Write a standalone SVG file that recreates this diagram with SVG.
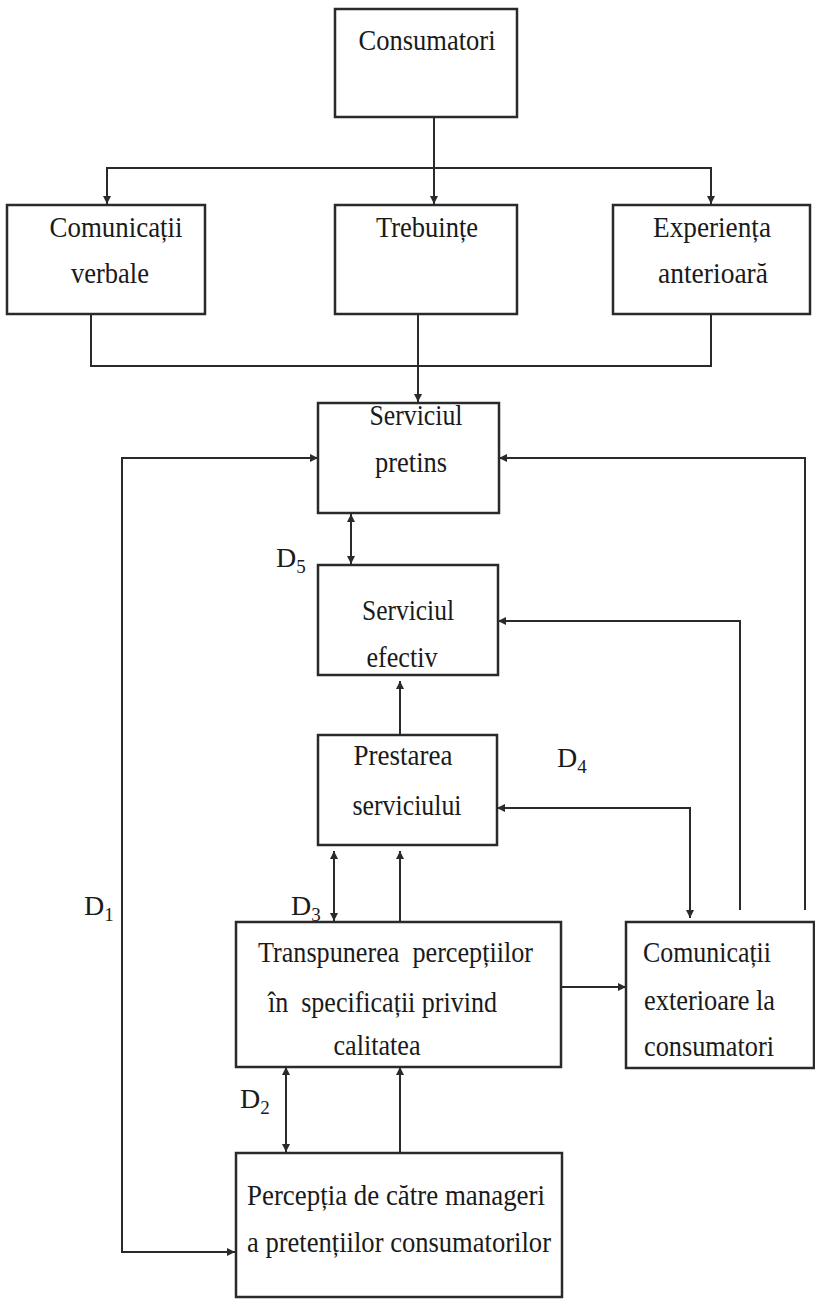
<svg xmlns="http://www.w3.org/2000/svg" width="815" height="1300" viewBox="0 0 815 1300">
<defs>
<marker id="ah" viewBox="0 0 10 10" refX="10" refY="5" markerWidth="9" markerHeight="8" markerUnits="userSpaceOnUse" orient="auto-start-reverse">
<path d="M0,0 L10,5 L0,10 z" fill="#2a2a2a"/>
</marker>
<style>
.box{fill:#fff;stroke:#2a2a2a;stroke-width:2.5}
.t{font-family:"Liberation Serif","Times New Roman",serif;font-size:30px;fill:#1a1a1a;text-anchor:middle}
.l{text-anchor:start}
.d{font-size:28px}
.c{fill:none;stroke:#2a2a2a;stroke-width:2}
.sub{font-size:19px}
</style>
</defs>
<rect width="815" height="1300" fill="#fff"/>
<g id="connectors">
<path class="c" d="M434,117 V204" marker-end="url(#ah)"/>
<path class="c" d="M107,204 V168 H711 V204" marker-start="url(#ah)" marker-end="url(#ah)"/>
<path class="c" d="M91,314 V366 H711 V314"/>
<path class="c" d="M418,314 V402" marker-end="url(#ah)"/>
<path class="c" d="M318,458 H122 V1252 H235" marker-start="url(#ah)" marker-end="url(#ah)"/>
<path class="c" d="M805,910 V458 H499" marker-end="url(#ah)"/>
<path class="c" d="M740,910 V621 H498" marker-end="url(#ah)"/>
<path class="c" d="M497,808 H690 V918" marker-start="url(#ah)" marker-end="url(#ah)"/>
<path class="c" d="M562,987 H626" marker-end="url(#ah)"/>
<path class="c" d="M351,514 V564" marker-start="url(#ah)" marker-end="url(#ah)"/>
<path class="c" d="M400,735 V681" marker-end="url(#ah)"/>
<path class="c" d="M334,851 V921" marker-start="url(#ah)" marker-end="url(#ah)"/>
<path class="c" d="M400,921 V851" marker-end="url(#ah)"/>
<path class="c" d="M286,1067 V1152" marker-start="url(#ah)" marker-end="url(#ah)"/>
<path class="c" d="M400,1152 V1067" marker-end="url(#ah)"/>
</g>
<g id="consumatori">
<rect class="box" x="335" y="9" width="182" height="108"/>
<text class="t" x="427" y="50" textLength="137" lengthAdjust="spacingAndGlyphs">Consumatori</text>
</g>
<g id="comunicatii-verbale">
<rect class="box" x="7" y="205" width="198" height="109"/>
<text class="t" x="116" y="237" textLength="133" lengthAdjust="spacingAndGlyphs">Comunicații</text>
<text class="t" x="110" y="283" textLength="78" lengthAdjust="spacingAndGlyphs">verbale</text>
</g>
<g id="trebuinte">
<rect class="box" x="335" y="205" width="182" height="109"/>
<text class="t" x="427" y="237" textLength="102" lengthAdjust="spacingAndGlyphs">Trebuințe</text>
</g>
<g id="experienta">
<rect class="box" x="613" y="205" width="197" height="109"/>
<text class="t" x="712" y="237" textLength="118" lengthAdjust="spacingAndGlyphs">Experiența</text>
<text class="t" x="713" y="283" textLength="110" lengthAdjust="spacingAndGlyphs">anterioară</text>
</g>
<g id="serviciul-pretins">
<rect class="box" x="318" y="403" width="181" height="110"/>
<text class="t" x="416" y="425" textLength="93" lengthAdjust="spacingAndGlyphs">Serviciul</text>
<text class="t" x="411" y="472" textLength="72" lengthAdjust="spacingAndGlyphs">pretins</text>
</g>
<g id="serviciul-efectiv">
<rect class="box" x="318" y="565" width="180" height="110"/>
<text class="t" x="408" y="620" textLength="92" lengthAdjust="spacingAndGlyphs">Serviciul</text>
<text class="t" x="402" y="667" textLength="71" lengthAdjust="spacingAndGlyphs">efectiv</text>
</g>
<g id="prestarea">
<rect class="box" x="318" y="735" width="179" height="110"/>
<text class="t" x="403" y="765" textLength="99" lengthAdjust="spacingAndGlyphs">Prestarea</text>
<text class="t" x="407" y="815" textLength="109" lengthAdjust="spacingAndGlyphs">serviciului</text>
</g>
<g id="transpunerea">
<rect class="box" x="236" y="922" width="325" height="145"/>
<text class="t l" x="258" y="962" xml:space="preserve" textLength="275" lengthAdjust="spacingAndGlyphs">Transpunerea  percepțiilor</text>
<text class="t l" x="268" y="1012" xml:space="preserve" textLength="229" lengthAdjust="spacingAndGlyphs">în  specificații privind</text>
<text class="t" x="377" y="1055" textLength="87" lengthAdjust="spacingAndGlyphs">calitatea</text>
</g>
<g id="comunicatii-exterioare">
<rect class="box" x="626" y="922" width="188" height="146"/>
<text class="t l" x="643" y="962" textLength="128" lengthAdjust="spacingAndGlyphs">Comunicații</text>
<text class="t l" x="644" y="1010" textLength="131" lengthAdjust="spacingAndGlyphs">exterioare la</text>
<text class="t l" x="644" y="1056" textLength="130" lengthAdjust="spacingAndGlyphs">consumatori</text>
</g>
<g id="perceptia">
<rect class="box" x="236" y="1153" width="326" height="144"/>
<text class="t" x="396" y="1205" textLength="298" lengthAdjust="spacingAndGlyphs">Percepția de către manageri</text>
<text class="t" x="399" y="1252" textLength="304" lengthAdjust="spacingAndGlyphs">a pretențiilor consumatorilor</text>
</g>
<g id="labels">
<text class="t l d" x="276" y="567">D<tspan class="sub" dy="6">5</tspan></text>
<text class="t l d" x="557" y="767">D<tspan class="sub" dy="6">4</tspan></text>
<text class="t l d" x="291" y="915">D<tspan class="sub" dy="6">3</tspan></text>
<text class="t l d" x="84" y="915">D<tspan class="sub" dy="6">1</tspan></text>
<text class="t l d" x="240" y="1108">D<tspan class="sub" dy="6">2</tspan></text>
</g>
</svg>
